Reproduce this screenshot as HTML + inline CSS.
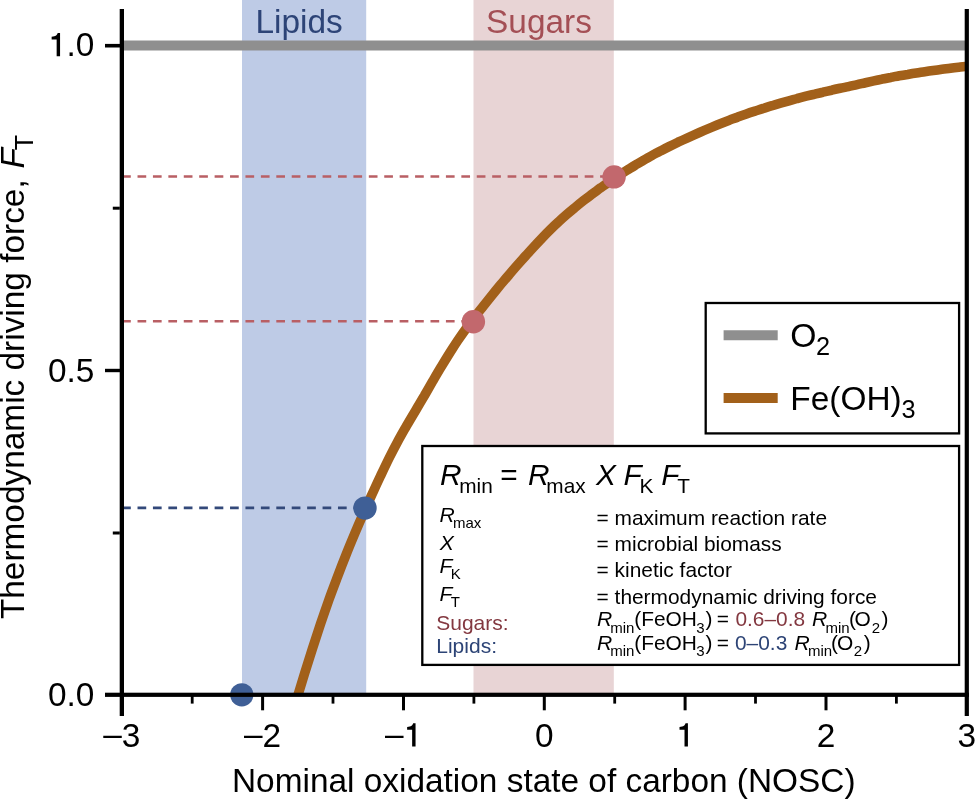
<!DOCTYPE html>
<html><head><meta charset="utf-8"><style>
html,body{margin:0;padding:0;background:#fff;width:975px;height:800px;overflow:hidden}
svg{display:block;will-change:transform}
text{font-family:"Liberation Sans",sans-serif}
</style></head><body>
<svg width="975" height="800" viewBox="0 0 975 800">
<rect x="0" y="0" width="975" height="800" fill="#fff"/>
<rect x="242" y="0" width="124.2" height="695" fill="#becbe6"/>
<rect x="473.5" y="0" width="140.3" height="695" fill="#e8d4d5"/>
<text x="255.46" y="33.00" font-size="33.4" fill="#2d4477">Lipids</text>
<text x="486.08" y="33.00" font-size="33.4" fill="#a44f55">Sugars</text>
<line x1="122" y1="45.5" x2="967" y2="45.5" stroke="#8f8f8f" stroke-width="10.2"/>
<g stroke-width="2.6" stroke-dasharray="8.7 6.72" fill="none">
<line x1="122.1" y1="176.5" x2="614" y2="176.5" stroke="#b95f64"/>
<line x1="122.1" y1="321.2" x2="473" y2="321.2" stroke="#b95f64"/>
<line x1="122.1" y1="507.9" x2="365" y2="507.9" stroke="#33497a"/>
</g>
<clipPath id="pc"><rect x="100" y="0" width="867" height="695"/></clipPath>
<path d="M296.2,701.0 C298.9,692.1 301.6,683.0 304.3,674.3 C307.0,665.6 309.7,657.0 312.4,648.7 C315.1,640.3 317.8,632.3 320.5,624.1 C323.3,615.9 326.2,607.4 329.0,599.5 C331.8,591.7 334.6,584.4 337.4,577.0 C340.2,569.6 342.9,562.6 345.8,555.4 C348.6,548.2 351.7,540.8 354.6,533.9 C357.5,527.0 360.3,520.5 363.2,514.0 C366.0,507.6 368.8,501.4 371.7,495.0 C374.6,488.7 377.6,482.1 380.5,476.0 C383.4,469.9 386.1,464.2 388.9,458.5 C391.8,452.8 394.7,447.2 397.6,441.8 C400.5,436.4 403.5,431.2 406.5,425.9 C409.5,420.7 412.8,415.2 415.8,410.2 C418.8,405.1 421.6,400.3 424.5,395.5 C427.3,390.6 429.9,386.0 432.7,381.2 C435.5,376.4 438.4,371.4 441.2,366.8 C444.0,362.2 446.6,357.9 449.3,353.6 C452.1,349.3 454.7,345.1 457.5,340.9 C460.4,336.7 463.4,332.4 466.3,328.4 C469.2,324.4 472.0,320.7 474.8,316.9 C477.7,313.2 480.5,309.6 483.4,306.0 C486.2,302.4 489.0,298.9 491.8,295.4 C494.7,291.9 497.7,288.2 500.5,284.8 C503.4,281.4 506.1,278.2 508.9,275.0 C511.6,271.7 514.3,268.6 517.1,265.4 C519.9,262.3 522.8,258.9 525.6,255.9 C528.4,252.8 531.0,249.9 533.7,247.0 C536.4,244.0 539.0,241.2 541.8,238.3 C544.5,235.4 547.4,232.4 550.2,229.7 C553.0,226.9 555.7,224.4 558.5,221.9 C561.2,219.3 563.9,216.9 566.8,214.4 C569.6,211.9 572.7,209.4 575.5,207.1 C578.4,204.7 581.1,202.5 583.9,200.3 C586.7,198.1 589.6,196.0 592.4,193.9 C595.2,191.8 598.0,189.8 600.8,187.7 C603.7,185.7 606.8,183.6 609.6,181.6 C612.5,179.6 615.3,177.8 618.1,176.0 C620.9,174.1 623.7,172.3 626.5,170.5 C629.4,168.7 632.5,166.9 635.3,165.1 C638.2,163.4 641.0,161.8 643.8,160.1 C646.6,158.5 649.4,157.0 652.2,155.4 C655.1,153.8 658.2,152.2 661.1,150.7 C663.9,149.2 666.7,147.8 669.5,146.4 C672.4,145.0 675.2,143.6 678.0,142.2 C680.8,140.9 683.6,139.6 686.5,138.3 C689.4,137.0 692.4,135.6 695.3,134.3 C698.1,133.1 700.9,131.9 703.7,130.7 C706.5,129.5 709.3,128.3 712.1,127.1 C715.0,125.9 718.0,124.7 720.9,123.5 C723.7,122.4 726.5,121.3 729.3,120.2 C732.1,119.2 734.8,118.1 737.7,117.1 C740.6,116.0 743.6,114.9 746.4,113.9 C749.3,112.9 752.1,112.0 754.9,111.1 C757.7,110.2 760.4,109.3 763.3,108.4 C766.2,107.5 769.2,106.5 772.1,105.7 C774.9,104.8 777.7,104.0 780.5,103.2 C783.3,102.4 786.1,101.6 788.9,100.8 C791.7,100.0 794.5,99.3 797.3,98.5 C800.2,97.8 803.2,97.0 806.1,96.2 C808.9,95.5 811.7,94.8 814.5,94.2 C817.3,93.5 820.0,92.8 822.9,92.2 C825.8,91.5 828.8,90.8 831.7,90.2 C834.5,89.5 837.3,88.9 840.1,88.3 C842.9,87.7 845.6,87.2 848.5,86.6 C851.3,86.0 854.3,85.2 857.2,84.6 C860.0,84.0 862.7,83.3 865.5,82.7 C868.3,82.1 871.1,81.5 873.9,80.9 C876.7,80.3 879.4,79.7 882.2,79.1 C885.1,78.6 888.1,77.9 890.9,77.4 C893.8,76.8 896.5,76.3 899.3,75.7 C902.1,75.2 904.8,74.8 907.7,74.4 C910.6,73.9 913.6,73.4 916.4,73.0 C919.3,72.6 922.0,72.1 924.8,71.7 C927.6,71.3 930.4,70.9 933.2,70.5 C936.1,70.1 939.1,69.7 942.0,69.3 C944.8,68.9 947.6,68.6 950.4,68.2 C953.2,67.8 955.9,67.5 958.8,67.2 C961.6,66.9 964.6,66.5 967.5,66.2" fill="none" stroke="#a2601a" stroke-width="9.6" clip-path="url(#pc)"/>
<circle cx="365" cy="508.1" r="11.7" fill="#3f5f96"/>
<circle cx="241.8" cy="694.8" r="11.6" fill="#3f5f96"/>
<circle cx="473.4" cy="321.7" r="11.7" fill="#c2686d"/>
<circle cx="614.1" cy="176.9" r="11.7" fill="#c2686d"/>
<g fill="#000">
<rect x="119.7" y="9" width="4.3" height="707"/>
<rect x="964.7" y="9" width="4.2" height="707"/>
<rect x="105" y="692.7" width="864" height="4.2"/>
<rect x="105" y="43.9" width="15" height="3.6"/>
<rect x="105" y="368.8" width="15" height="3.4"/>
<rect x="112.8" y="206.7" width="7" height="3"/>
<rect x="112.8" y="531.5" width="7" height="3"/>
<rect x="261.1" y="695" width="3" height="15.3"/>
<rect x="402.0" y="695" width="3" height="15.3"/>
<rect x="542.8" y="695" width="3" height="15.3"/>
<rect x="683.6" y="695" width="3" height="15.3"/>
<rect x="824.5" y="695" width="3" height="15.3"/>
<rect x="190.8" y="695" width="2.8" height="8.6"/>
<rect x="331.6" y="695" width="2.8" height="8.6"/>
<rect x="472.5" y="695" width="2.8" height="8.6"/>
<rect x="613.3" y="695" width="2.8" height="8.6"/>
<rect x="754.1" y="695" width="2.8" height="8.6"/>
<rect x="895.0" y="695" width="2.8" height="8.6"/>
</g>
<text x="94.4" y="381.6" font-size="33.4" text-anchor="end">0.5</text>
<text x="94.4" y="706.4" font-size="33.4" text-anchor="end">0.0</text>
<path d="M362,0L362,697L290,697C277,640 235,592 110,584L110,502L260,502L260,0Z" transform="translate(47.97,56.20) scale(0.03340,-0.03340)"/>
<text x="66.54" y="56.2" font-size="33.4">.0</text>
<text x="121.8" y="746.5" font-size="33.4" text-anchor="middle"><tspan dy="-1.6">–</tspan><tspan dy="1.6">3</tspan></text>
<text x="262.6" y="746.5" font-size="33.4" text-anchor="middle"><tspan dy="-1.6">–</tspan><tspan dy="1.6">2</tspan></text>
<text x="544.3" y="746.5" font-size="33.4" text-anchor="middle">0</text>
<text x="826.0" y="746.5" font-size="33.4" text-anchor="middle">2</text>
<text x="966.8" y="746.5" font-size="33.4" text-anchor="middle">3</text>
<text x="384.89" y="744.9" font-size="33.4">–</text>
<path d="M362,0L362,697L290,697C277,640 235,592 110,584L110,502L260,502L260,0Z" transform="translate(403.46,746.50) scale(0.03340,-0.03340)"/>
<path d="M362,0L362,697L290,697C277,640 235,592 110,584L110,502L260,502L260,0Z" transform="translate(675.83,746.50) scale(0.03340,-0.03340)"/>
<text x="543.8" y="792.3" font-size="33.4" text-anchor="middle">Nominal oxidation state of carbon (NOSC)</text>
<text transform="translate(24.4,619.1) rotate(-90)" font-size="33.4">Thermodynamic driving force, <tspan font-style="italic" dx="1.6">F</tspan><tspan font-size="25.3" dy="8.3" dx="-2.2">T</tspan></text>
<rect x="705.7" y="303" width="253.4" height="130.4" fill="#fff" stroke="#000" stroke-width="2.3"/>
<line x1="723.6" y1="335.3" x2="777.7" y2="335.3" stroke="#8f8f8f" stroke-width="10"/>
<line x1="723.6" y1="398" x2="777.7" y2="398" stroke="#a2601a" stroke-width="10"/>
<text x="790.30" y="346.80" font-size="33.7">O</text>
<text x="816.03" y="354.90" font-size="25.3">2</text>
<text x="790.36" y="409.85" font-size="33.4">Fe(OH)</text>
<text x="901.54" y="418.30" font-size="25.3">3</text>
<rect x="422.3" y="446" width="536.8" height="218.9" fill="#fff" stroke="#000" stroke-width="2.3"/>
<text x="439.98" y="484.80" font-size="29.8" font-style="italic">R</text>
<text x="459.22" y="492.80" font-size="20.8">min</text>
<text x="500.34" y="484.80" font-size="29.8">=</text>
<text x="527.88" y="484.80" font-size="29.8" font-style="italic">R</text>
<text x="546.32" y="492.80" font-size="20.8">max</text>
<text x="595.97" y="484.80" font-size="29.8" font-style="italic">X</text>
<text x="623.58" y="484.80" font-size="29.8" font-style="italic">F</text>
<text x="639.49" y="492.80" font-size="20.8">K</text>
<text x="661.28" y="484.80" font-size="29.8" font-style="italic">F</text>
<text x="677.33" y="492.80" font-size="20.8">T</text>
<text x="439.55" y="521.70" font-size="21.1" font-style="italic">R</text>
<text x="452.90" y="527.60" font-size="15">max</text>
<text x="439.70" y="549.80" font-size="21.1" font-style="italic">X</text>
<text x="439.45" y="572.50" font-size="21.1" font-style="italic">F</text>
<text x="450.67" y="578.70" font-size="15">K</text>
<text x="439.45" y="601.00" font-size="21.1" font-style="italic">F</text>
<text x="450.76" y="607.40" font-size="15">T</text>
<text x="436.25" y="629.80" font-size="21" fill="#833840">Sugars:</text>
<text x="436.28" y="653.00" font-size="21" fill="#2d4476">Lipids:</text>
<text x="596.58" y="524.90" font-size="20.9">= maximum reaction rate</text>
<text x="596.58" y="551.20" font-size="20.9">= microbial biomass</text>
<text x="596.58" y="577.40" font-size="20.9">= kinetic factor</text>
<text x="596.58" y="603.70" font-size="20.9">= thermodynamic driving force</text>
<text x="596.95" y="626.00" font-size="21.1" font-style="italic">R</text>
<text x="610.30" y="632.60" font-size="15">min</text>
<text x="634.20" y="626.00" font-size="20.9">(FeOH</text>
<text x="696.33" y="632.60" font-size="15">3</text>
<text x="705.48" y="626.00" font-size="20.9">)</text>
<text x="716.68" y="626.00" font-size="20.9">=</text>
<text x="735.38" y="626.00" font-size="20.9" fill="#833840">0.6–0.8</text>
<text x="811.95" y="626.00" font-size="21.1" font-style="italic">R</text>
<text x="825.40" y="632.60" font-size="15">min</text>
<text x="848.90" y="626.00" font-size="20.9">(</text>
<text x="854.61" y="626.00" font-size="20.9">O</text>
<text x="871.65" y="632.60" font-size="15">2</text>
<text x="881.38" y="626.00" font-size="20.9">)</text>
<text x="596.95" y="649.90" font-size="21.1" font-style="italic">R</text>
<text x="610.30" y="656.40" font-size="15">min</text>
<text x="634.20" y="649.90" font-size="20.9">(FeOH</text>
<text x="696.33" y="656.40" font-size="15">3</text>
<text x="705.48" y="649.90" font-size="20.9">)</text>
<text x="716.68" y="649.90" font-size="20.9">=</text>
<text x="734.98" y="649.90" font-size="20.9" fill="#2d4476">0–0.3</text>
<text x="794.45" y="649.90" font-size="21.1" font-style="italic">R</text>
<text x="807.90" y="656.40" font-size="15">min</text>
<text x="831.00" y="649.90" font-size="20.9">(</text>
<text x="837.01" y="649.90" font-size="20.9">O</text>
<text x="853.85" y="656.40" font-size="15">2</text>
<text x="863.78" y="649.90" font-size="20.9">)</text>
</svg>
</body></html>
